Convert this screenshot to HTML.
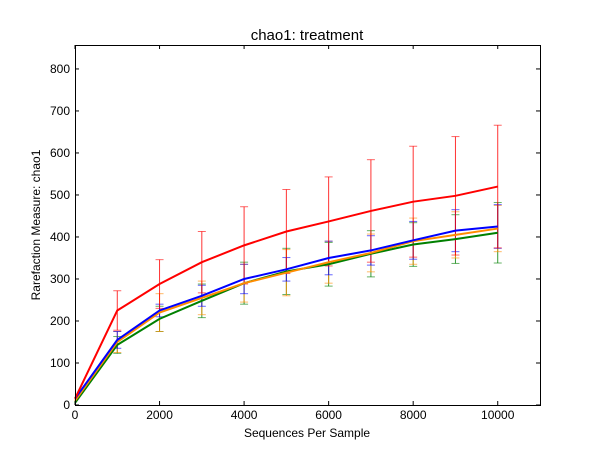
<!DOCTYPE html>
<html><head><meta charset="utf-8"><style>
body{margin:0;background:#fff;}
svg text{font-family:"Liberation Sans","DejaVu Sans",sans-serif;}
</style></head><body>
<svg id="chart" width="600" height="450" xmlns="http://www.w3.org/2000/svg">
<rect width="600" height="450" fill="#fff"/>
<text x="307" y="40" font-size="15" text-anchor="middle">chao1: treatment</text>
<text x="307" y="437" font-size="12" text-anchor="middle">Sequences Per Sample</text>
<text x="40" y="225" font-size="12" text-anchor="middle" transform="rotate(-90 40 225)">Rarefaction Measure: chao1</text>
<g id="plot"></g>
<rect x="75.5" y="45.5" width="465" height="360" fill="none" stroke="#000" stroke-width="1"/>
</svg>
<script>
const xs=[0,1000,2000,3000,4000,5000,6000,7000,8000,9000,10000];
const xTicks=[0,2000,4000,6000,8000,10000];
const yTicks=[0,100,200,300,400,500,600,700,800];
const redVals=[15,225,288,340,380,413,437,462,484,498,520];
const redErr=[0,47,58,73,92,100,106,122,132,141,146];
const blueVals=[15,155,225,260,300,323,350,368,392,415,425];
const blueErr=[0,20,15,25,35,28,40,35,45,50,52];
const orangeVals=[10,150,220,255,290,315,340,362,390,405,420];
const orangeErr=[0,25,45,40,45,55,50,45,55,55,55];
const greenVals=[5,143,205,248,290,318,335,360,382,395,410];
const greenErr=[0,20,30,40,50,55,52,55,52,58,72];
const X0=75,X1=540,Y0=405,Y1=45,XMAX=11000,YMAX=857;
const sx=v=>X0+v/XMAX*(X1-X0);
const sy=v=>Y0-v/YMAX*(Y0-Y1);
const NS="http://www.w3.org/2000/svg";
const g=document.getElementById('plot');
function mk(t,a){const e=document.createElementNS(NS,t);for(const k in a)e.setAttribute(k,a[k]);g.appendChild(e);return e;}
xTicks.forEach(v=>{
 const x=sx(v);
 const t1=mk('line',{x1:x,x2:x,y1:405,y2:401,stroke:'#000'});
 
 
 const t2=mk('line',{x1:x,x2:x,y1:45,y2:49,stroke:'#000'});
 
 
 const tx=mk('text',{x:x,y:419,'font-size':12,'text-anchor':'middle'});tx.textContent=v;
 
 
});
yTicks.forEach(v=>{
 const y=sy(v);
 const t1=mk('line',{x1:75,x2:79,y1:y,y2:y,stroke:'#000'});
 
 
 const t2=mk('line',{x1:540,x2:536,y1:y,y2:y,stroke:'#000'});
 
 
 const tx=mk('text',{x:70,y:y+4,'font-size':12,'text-anchor':'end'});tx.textContent=v;
 
 
});
const series=[['green',greenVals,greenErr,'#008000'],['orange',orangeVals,orangeErr,'#ff8c00'],['blue',blueVals,blueErr,'#0000ff'],['red',redVals,redErr,'#ff0000']];
series.forEach(([n,vals,errs,c])=>{
 vals.forEach((v,i)=>{
  if(!errs[i])return;
  const x=sx(xs[i]);
  const l=mk('line',{x1:x,x2:x,y1:sy(v+errs[i]),y2:sy(v-errs[i]),stroke:c,'stroke-width':1,opacity:0.8});
  
  
  [v+errs[i],v-errs[i]].forEach(e=>{
   const cap=mk('line',{x1:x-4,x2:x+4,y1:sy(e),y2:sy(e),stroke:c,'stroke-width':1,opacity:0.6});
   
   
  });
 });
});
series.forEach(([n,vals,errs,c])=>{
 const p=mk('polyline',{points:vals.map((v,i)=>sx(xs[i])+','+sy(v)).join(' '),fill:'none',stroke:c,'stroke-width':2});
 
 
});
</script>
</body></html>
